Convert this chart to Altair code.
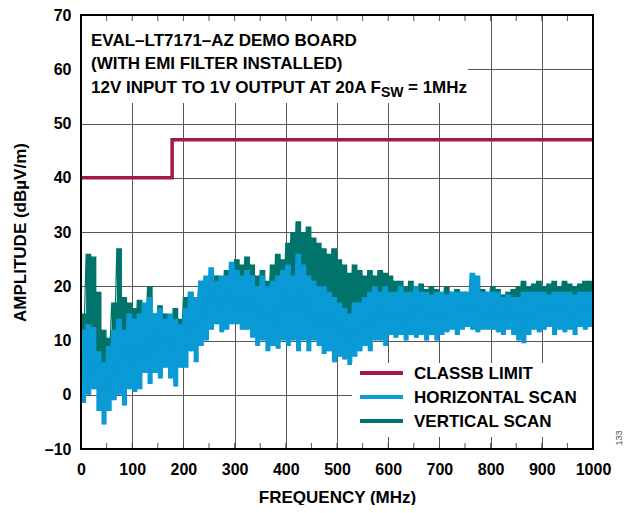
import altair as alt
import pandas as pd

# ---------------- data ----------------
freq_hi = list(range(0, 1001, 10))   # frequencies of peak samples (MHz)
freq_lo = list(range(5, 1000, 10))   # frequencies of trough samples (MHz)

vert_hi = [15, 26, 25.5, 19, 12, 10.5, 17, 27, 18, 17,
           16, 17.5, 16, 20, 15, 16.5, 15, 14, 16, 14,
           18, 19, 18, 21, 20, 21, 22, 21, 23, 22,
           25, 24, 25.5, 24, 22, 23, 21, 24, 26, 25,
           28, 30, 32, 30, 31, 29, 28, 27, 26, 27,
           25, 24, 22.5, 24, 23, 22, 23, 22, 23, 22.5,
           22, 21, 21, 20, 21, 20, 20.5, 19.5, 20, 19.5,
           19, 20, 19, 19.5, 19, 19, 19.5, 20, 19.5, 19,
           20, 19.5, 18.5, 19, 19.5, 20, 21, 20, 20.5, 21,
           20, 20.5, 21, 20, 21, 20.5, 20, 20.5, 21, 21, 21.5]
vert_lo = [8, 6, 8, 5, 4, 5, 8, 6, 7, 6,
           6, 7, 7, 6, 7, 6, 8, 6, 5, 7,
           9, 10, 11, 12, 12, 13, 14, 13, 14, 14,
           15, 14, 13, 14, 12, 13, 12, 13, 13, 14,
           14, 15, 14, 15, 13, 14, 13, 12, 12, 11,
           10, 11, 10, 11, 12, 12, 13, 13, 13, 14,
           14, 14, 14, 13.5, 14, 14, 14.5, 14, 14, 14.5,
           14, 14.5, 15, 14, 15, 15, 14.5, 14, 15, 14.5,
           15, 14, 14.5, 15, 14, 14, 14.5, 15, 15, 14.5,
           15, 15, 14.5, 15, 14.5, 15, 14.5, 15, 15, 15]
horiz_hi = [12, 13, 12.5, 8, 6, 9, 12, 14, 12, 15,
            14, 15, 17, 18, 15, 16, 14, 15, 14, 13,
            16, 19, 18, 21, 22, 23.5, 21, 22, 22, 24.5,
            23, 22, 23, 22, 20, 22, 20, 21, 22, 23,
            24, 22, 26, 24, 22, 21, 20, 20, 19, 18,
            17, 16, 15, 17, 17, 18, 19, 20, 19, 20,
            19, 19, 20, 19, 19, 20, 19, 19, 18.5, 19,
            19, 18.5, 19, 19, 19, 19, 22.5, 22, 19, 19,
            19, 19, 18, 18.5, 18, 18, 19, 19, 19, 19,
            19, 18.5, 19, 19, 19, 19, 18.5, 19, 19, 19, 20]
horiz_lo = [-1.5, 0, 1, -3, -5.5, -3, -1, 0, -2, 1,
            0.5, 1, 4, 2, 4, 3, 5, 3, 1.5, 5,
            5, 8, 6, 9, 10, 12, 13, 11.5, 12, 13,
            13, 12, 12, 10.5, 9, 10, 8, 9, 8.5, 10,
            9, 10, 8, 10, 8, 10, 9, 7.5, 8, 6,
            7, 6.5, 5.5, 7, 8, 9, 8, 10, 10, 9,
            11, 10.5, 11, 10, 11, 10.5, 11, 10, 11, 10,
            11, 11.5, 12, 11, 12, 12.5, 12, 11.5, 12, 12,
            12, 11.5, 11, 12, 11, 10, 9.5, 11, 12, 11.5,
            12, 12.5, 11, 12, 11.5, 12, 11, 12.5, 12, 12.5]

limit_freq = [0, 178, 1000]
limit_val = [40, 47, 47]

x_grid = list(range(0, 1001, 50))
y_ticks = list(range(-10, 71, 10))

legend_labels = ["CLASSB LIMIT", "HORIZONTAL SCAN", "VERTICAL SCAN"]
c_limit, c_horiz, c_vert = "#a3174b", "#0a9ad6", "#00746a"
FONT = "Liberation Sans"


def zigzag(hi, lo):
    rows = []
    for i, f in enumerate(freq_hi):
        rows.append({"f": f, "v": hi[i]})
        if i < len(freq_lo):
            rows.append({"f": freq_lo[i], "v": lo[i]})
    return pd.DataFrame(rows)


def band(hi, lo):
    rows = []
    for i, f in enumerate(freq_hi):
        rows.append({"f": f, "top": hi[i], "bot": lo[min(i, len(lo) - 1)]})
    return pd.DataFrame(rows)


W, H = 512, 434

xscale = alt.Scale(domain=[0, 1000], nice=False)
yscale = alt.Scale(domain=[-10, 70], nice=False)

xaxis = alt.Axis(values=x_grid, title="FREQUENCY (MHz)", format="d",
                 labelExpr="datum.value % 100 == 0 ? datum.label : ''",
                 labelPadding=12, titlePadding=12, labelFlush=False, labelOverlap=False)
yaxis = alt.Axis(values=y_ticks, title="AMPLITUDE (dBµV/m)",
                 labelExpr="datum.value < 0 ? '–' + abs(datum.value) : datum.label",
                 labelPadding=10, titlePadding=15)


def scan_layers(hi, lo, color, axes=False):
    b = band(hi, lo)
    z = zigzag(hi, lo)
    if axes:
        xe = alt.X("f:Q", scale=xscale, axis=xaxis)
        ye = alt.Y("top:Q", scale=yscale, axis=yaxis)
    else:
        xe = alt.X("f:Q", scale=xscale)
        ye = alt.Y("top:Q", scale=yscale)
    area = alt.Chart(b).mark_area(color=color, interpolate="step-after", opacity=1).encode(
        x=xe, y=ye, y2="bot:Q")
    line = alt.Chart(z).mark_line(color=color, strokeWidth=1.2, strokeJoin="bevel").encode(
        x=alt.X("f:Q", scale=xscale), y=alt.Y("v:Q", scale=yscale))
    return [area, line]


vert = scan_layers(vert_hi, vert_lo, c_vert, axes=True)
horiz = scan_layers(horiz_hi, horiz_lo, c_horiz)

limit_df = pd.DataFrame({"f": limit_freq, "v": limit_val})
one = pd.DataFrame({"a": [0]})

limit = alt.Chart(limit_df).mark_line(color=c_limit, strokeWidth=3.5, interpolate="step-after").encode(
    x=alt.X("f:Q", scale=xscale), y=alt.Y("v:Q", scale=yscale))

# white boxes behind annotation / legend
text_box = alt.Chart(one).mark_rect(fill="white").encode(
    x=alt.value(0), x2=alt.value(387), y=alt.value(0), y2=alt.value(88))
legend_box = alt.Chart(one).mark_rect(fill="white").encode(
    x=alt.value(271), x2=alt.value(W), y=alt.value(348), y2=alt.value(422))


def txt(s, x, y, size=17, **kw):
    return alt.Chart(one).mark_text(text=s, font=FONT, fontWeight="bold", fontSize=size,
                                    align="left", baseline="alphabetic", color="black", **kw).encode(
        x=alt.value(x), y=alt.value(y))


annot = [
    txt("EVAL–LT7171–AZ DEMO BOARD", 10, 31),
    txt("(WITH EMI FILTER INSTALLED)", 10, 54),
    txt("12V INPUT TO 1V OUTPUT AT 20A F", 10, 78),
    txt("SW", 300, 82, size=14),
    txt("= 1MHz", 327, 78),
]

legend_layers = []
for i, (lab, col) in enumerate(zip(legend_labels, [c_limit, c_horiz, c_vert])):
    yc = 358 + 24 * i
    legend_layers.append(alt.Chart(one).mark_rule(color=col, strokeWidth=4).encode(
        x=alt.value(279), x2=alt.value(322), y=alt.value(yc)))
    legend_layers.append(txt(lab, 333, yc + 6))

top_ticks = alt.Chart(pd.DataFrame({"f": x_grid})).mark_rule(color="#555555", strokeWidth=1).encode(
    x=alt.X("f:Q", scale=xscale), y=alt.value(0), y2=alt.value(6))
bot_ticks = alt.Chart(pd.DataFrame({"f": x_grid})).mark_rule(color="#555555", strokeWidth=1).encode(
    x=alt.X("f:Q", scale=xscale), y=alt.value(H - 6), y2=alt.value(H))

frame = alt.Chart(one).mark_rect(filled=False, stroke="black", strokeWidth=2).encode(
    x=alt.value(0), x2=alt.value(W), y=alt.value(0), y2=alt.value(H))

code = alt.Chart(one).mark_text(text="133", font=FONT, fontSize=9, color="#555555",
                                angle=270, align="center", baseline="middle").encode(
    x=alt.value(538), y=alt.value(423))

chart = alt.layer(
    *vert, *horiz, limit, text_box, *annot, legend_box, *legend_layers,
    top_ticks, bot_ticks, frame, code
).properties(
    width=W, height=H,
    autosize=alt.AutoSizeParams(type="none"),
    padding={"left": 73, "top": 7, "right": 31, "bottom": 56},
).configure_view(stroke=None).configure_axis(
    grid=True, gridColor="#555555", gridWidth=1, domain=False, ticks=False,
    labelFont=FONT, labelFontWeight="bold", labelFontSize=16, labelColor="black",
    titleFont=FONT, titleFontWeight="bold", titleFontSize=17, titleColor="black",
)

chart.save("out.html", embed_options={"renderer": "svg", "actions": False})
